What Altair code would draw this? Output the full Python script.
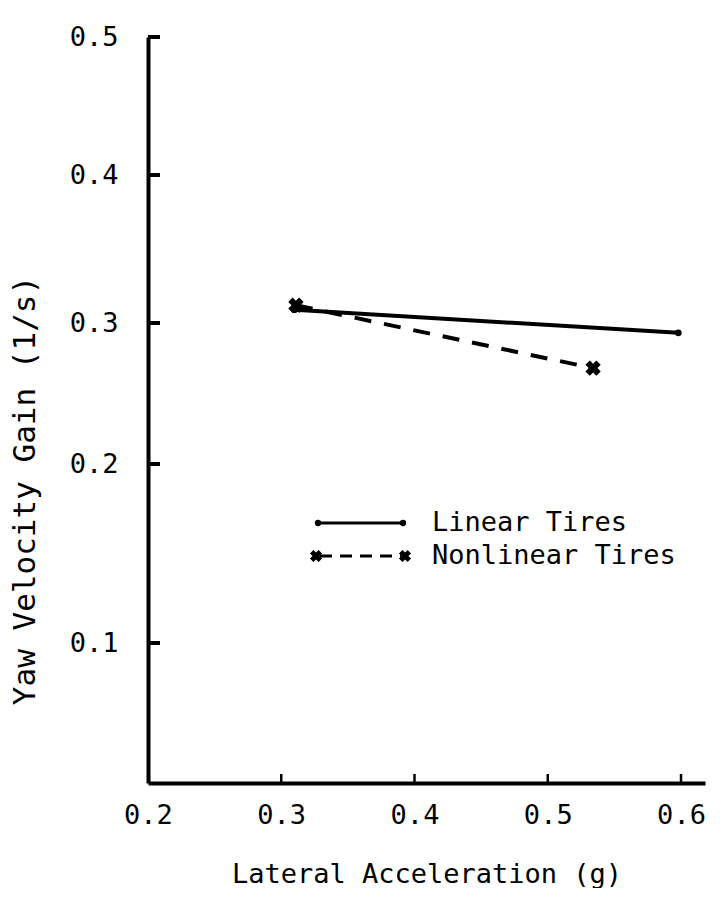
import altair as alt
import pandas as pd

FONT = "DejaVu Sans Mono"

# Data
series_names = ["Linear Tires", "Nonlinear Tires"]
linear_x = [0.310, 0.598]
linear_y = [0.309, 0.293]
nonlinear_x = [0.311, 0.534]
nonlinear_y = [0.312, 0.268]

x_ticks = [0.3, 0.4, 0.5, 0.6]
y_ticks = [0.1, 0.2, 0.3, 0.4, 0.5]
x_label_values = [0.2, 0.3, 0.4, 0.5, 0.6]

W, H = 557, 746

df = pd.DataFrame(
    {"x": linear_x + nonlinear_x,
     "y": linear_y + nonlinear_y,
     "s": [series_names[0]] * 2 + [series_names[1]] * 2}
)
lin = df[df.s == series_names[0]]
non = df[df.s == series_names[1]]

xs = alt.Scale(domain=[0.2, 0.618], nice=False, zero=False)
# hand-drawn axis: uneven tick spacing, reproduced with a piecewise linear scale
ys = alt.Scale(domain=[0.0, 0.1, 0.2, 0.3, 0.4, 0.5], range=[H, 606, 427, 286, 138, 0],
               nice=False, zero=False)

x_axis = alt.Axis(
    values=x_label_values, format=".1f", grid=False, ticks=False, tickSize=0,
    domainColor="black", domainWidth=4, labelFont=FONT, labelFontSize=27,
    labelColor="black", labelPadding=19, title="Lateral Acceleration (g)",
    titleFont=FONT, titleFontSize=27, titleFontWeight="normal", titleColor="black",
    titleY=99, titleBaseline="alphabetic", labelFlush=False,
)
y_axis = alt.Axis(
    values=y_ticks, format=".1f", grid=False, ticks=False, tickSize=0,
    domainColor="black", domainWidth=4, labelFont=FONT, labelFontSize=27,
    labelColor="black", labelPadding=30, title="Yaw Velocity Gain (1/s)",
    titleFont=FONT, titleFontSize=31, titleFontWeight="normal", titleColor="black",
    titleAngle=270, titleX=-123, titleY=453, titleAlign="center",
    titleBaseline="middle", labelFlush=False,
)

base_lin = alt.Chart(lin)
line_lin = base_lin.mark_line(color="black", strokeWidth=4).encode(
    x=alt.X("x:Q", scale=xs, axis=x_axis),
    y=alt.Y("y:Q", scale=ys, axis=y_axis),
)
pts_lin = base_lin.mark_point(filled=True, shape="circle", size=45, color="black", opacity=1).encode(
    x=alt.X("x:Q", scale=xs), y=alt.Y("y:Q", scale=ys)
)
base_non = alt.Chart(non)
line_non = base_non.mark_line(color="black", strokeWidth=4, strokeDash=[17, 13]).encode(
    x=alt.X("x:Q", scale=xs), y=alt.Y("y:Q", scale=ys)
)
pts_non = base_non.mark_point(filled=True, shape="cross", angle=45, size=240, color="black", opacity=1).encode(
    x=alt.X("x:Q", scale=xs), y=alt.Y("y:Q", scale=ys)
)

# inward tick marks
yt = alt.Chart(pd.DataFrame({"t": y_ticks})).mark_rule(color="black", strokeWidth=4).encode(
    y=alt.Y("t:Q", scale=ys), x=alt.value(0), x2=alt.value(12)
)
xt = alt.Chart(pd.DataFrame({"t": x_ticks})).mark_rule(color="black", strokeWidth=2.5).encode(
    x=alt.X("t:Q", scale=xs), y=alt.value(H), y2=alt.value(H - 9)
)

# hand-made legend (pixel layout inside the plot)
leg_y = [486, 519]
leg_lin = alt.Chart(pd.DataFrame({"name": [series_names[0]]})).mark_rule(color="black", strokeWidth=3).encode(
    x=alt.value(170), x2=alt.value(255), y=alt.value(leg_y[0])
)
leg_lin_pts = alt.Chart(pd.DataFrame({"p": [170, 255]})).mark_point(
    filled=True, shape="circle", size=40, color="black", opacity=1
).encode(x=alt.X("p:Q", scale=None), y=alt.value(leg_y[0]))
leg_non = alt.Chart(pd.DataFrame({"name": [series_names[1]]})).mark_rule(
    color="black", strokeWidth=3, strokeDash=[12, 8]
).encode(x=alt.value(172), x2=alt.value(253), y=alt.value(leg_y[1]))
leg_non_pts = alt.Chart(pd.DataFrame({"p": [168, 257]})).mark_point(
    filled=True, shape="cross", angle=45, size=150, color="black", opacity=1
).encode(x=alt.X("p:Q", scale=None), y=alt.value(leg_y[1]))
leg_txt0 = alt.Chart(pd.DataFrame({"name": [series_names[0]]})).mark_text(
    font=FONT, fontSize=27, align="left", baseline="middle", color="black"
).encode(x=alt.value(284), y=alt.value(leg_y[0]), text="name:N")
leg_txt1 = alt.Chart(pd.DataFrame({"name": [series_names[1]]})).mark_text(
    font=FONT, fontSize=27, align="left", baseline="middle", color="black"
).encode(x=alt.value(284), y=alt.value(leg_y[1]), text="name:N")

chart = alt.layer(
    line_lin, line_non, pts_lin, pts_non, yt, xt,
    leg_lin, leg_non, leg_lin_pts, leg_non_pts, leg_txt0, leg_txt1,
).properties(
    width=W, height=H,
    autosize=alt.AutoSizeParams(type="none"),
    padding={"left": 140, "top": 29, "right": 10, "bottom": 105},
    background="white",
).configure_view(stroke=None)

chart.save("out.html", embed_options={"renderer": "svg", "actions": False})
